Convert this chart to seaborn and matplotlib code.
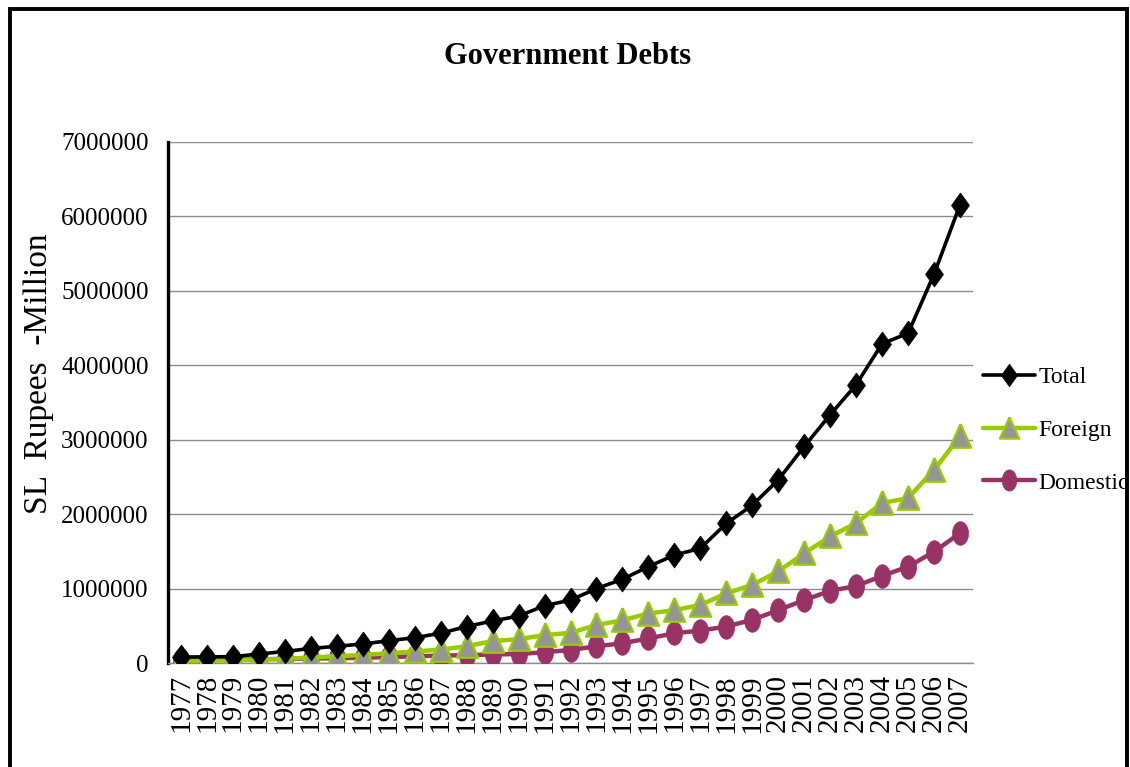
import numpy as np
import pandas as pd
import matplotlib
matplotlib.use("Agg")
import matplotlib.pyplot as plt
from matplotlib.patches import Rectangle
import seaborn as sns

# ---- data (SL Rupees million) ----
years = list(range(1977, 2008))
year_labels = [str(y) for y in years]
total = [80000, 82000, 85000, 120000, 155000, 195000, 225000, 255000, 300000, 340000,
         400000, 490000, 565000, 630000, 770000, 845000, 1000000, 1125000, 1295000, 1450000,
         1540000, 1875000, 2120000, 2460000, 2910000, 3335000, 3740000, 4290000, 4430000,
         5225000, 6155000]
foreign = [30000, 32000, 35000, 45000, 55000, 75000, 90000, 110000, 130000, 155000,
           180000, 225000, 295000, 320000, 375000, 405000, 510000, 575000, 665000, 710000,
           780000, 935000, 1050000, 1230000, 1475000, 1700000, 1880000, 2150000, 2215000,
           2595000, 3045000]
domestic = [35000, 40000, 45000, 50000, 55000, 60000, 65000, 70000, 80000, 90000,
            100000, 105000, 115000, 120000, 145000, 175000, 225000, 265000, 330000, 400000,
            435000, 490000, 580000, 710000, 845000, 970000, 1035000, 1170000, 1295000,
            1495000, 1745000]
series_names = ["Total", "Foreign", "Domestic"]
y_ticks = [0, 1000000, 2000000, 3000000, 4000000, 5000000, 6000000, 7000000]

sns.set_theme(style="white")
plt.rcParams["font.family"] = ["Liberation Serif", "DejaVu Serif"]
plt.rcParams.update({"text.color": "black", "axes.labelcolor": "black",
                     "xtick.color": "black", "ytick.color": "black"})

W, H = 1130, 767
fig = plt.figure(figsize=(W / 100, H / 100), dpi=100)
ax = fig.add_axes([168 / W, 1 - 663 / H, (973 - 168) / W, (663 - 142) / H])

# custom tall markers (chart is horizontally squashed)
diamond = [(0, 1), (0.72, 0), (0, -1), (-0.72, 0), (0, 1)]
tri = [(0, 1), (0.85, -0.9), (-0.85, -0.9), (0, 1)]
t = np.linspace(0, 2 * np.pi, 40)
ellipse = list(zip(0.68 * np.cos(t), np.sin(t)))

df = pd.DataFrame({"Year": years, "Total": total, "Foreign": foreign, "Domestic": domestic})

sns.lineplot(data=df, x="Year", y="Domestic", ax=ax, color="#993366", lw=3.2,
             marker=ellipse, markersize=17, markerfacecolor="#993366",
             markeredgecolor="#993366", markeredgewidth=0.5, label="Domestic", zorder=3)
sns.lineplot(data=df, x="Year", y="Foreign", ax=ax, color="#99CC00", lw=3.2,
             marker=tri, markersize=18, markerfacecolor="#959595",
             markeredgecolor="#99CC00", markeredgewidth=1.6, label="Foreign", zorder=4)
sns.lineplot(data=df, x="Year", y="Total", ax=ax, color="black", lw=2.6,
             marker=diamond, markersize=18, markerfacecolor="black",
             markeredgecolor="black", markeredgewidth=0.5, label="Total", zorder=5)

ax.set_xlim(1976.5, 2007.5)
ax.set_ylim(0, 7000000)
ax.set_yticks(y_ticks)
ax.set_yticklabels([str(v) for v in y_ticks], fontsize=18)
ax.set_xticks(years)
ax.set_xticklabels(year_labels, rotation=90, fontsize=21, va="top", ha="center")
ax.tick_params(axis="y", length=0, pad=14)
ax.tick_params(axis="x", length=0, pad=8)
ax.set_xlabel("")
ax.set_ylabel("SL  Rupees  -Million", fontsize=24)
ax.yaxis.set_label_coords(-0.141, 0.556)

ax.grid(axis="y", color="#8c8c8c", lw=1.0)
ax.grid(axis="x", visible=False)
for s in ["top", "right"]:
    ax.spines[s].set_visible(False)
ax.spines["bottom"].set_color("#8c8c8c")
ax.spines["bottom"].set_linewidth(1.0)
ax.spines["left"].set_color("black")
ax.spines["left"].set_linewidth(2.4)
ax.set_facecolor("white")

# legend
ax.get_legend().remove()
handles, labels = ax.get_legend_handles_labels()
order = [labels.index(n) for n in series_names]
leg = fig.legend([handles[i] for i in order], [labels[i] for i in order],
                 loc="center left", bbox_to_anchor=(983 / W, 1 - 430 / H),
                 frameon=False, fontsize=17, handlelength=2.2, handletextpad=0.15,
                 labelspacing=1.33, borderpad=0, borderaxespad=0, markerscale=0.9)
for txt in leg.get_texts():
    txt.set_color("black")

fig.text(568 / W, 1 - 57 / H, "Government Debts", ha="center", va="center",
         fontsize=22, fontweight="bold", color="black")

# outer chart border
fig.add_artist(Rectangle((10 / W, -0.02), (1127 - 10) / W, 1 - 9 / H + 0.02,
                         transform=fig.transFigure, fill=False, lw=2.8,
                         edgecolor="black", zorder=10))
fig.add_artist(Rectangle((1129 / W, 0), 1 / W, 1, transform=fig.transFigure,
                         facecolor="white", edgecolor="none", zorder=11))

fig.savefig("out.png", dpi=100, facecolor="white")
